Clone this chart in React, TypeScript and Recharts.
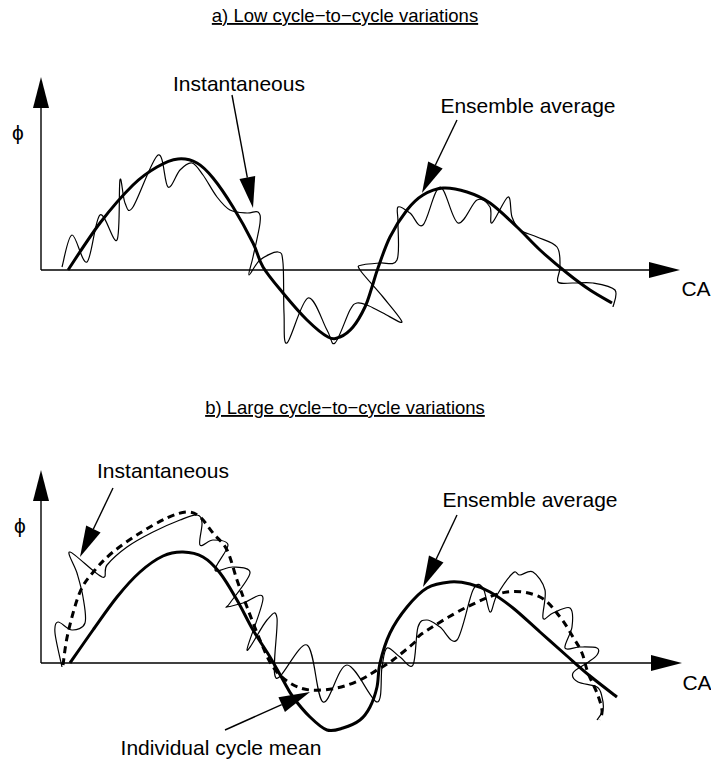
import React from 'react';
import { LineChart, Line, XAxis, YAxis, ReferenceLine, ReferenceDot } from 'recharts';

// crank angle (x) vs phi (y), drawing units: 1 unit = 1px
const aEnsemble = [
  [27, 0], [59, 47], [92, 85], [116, 103], [137, 111], [156, 107], [172, 92], [192, 63], [212, 27],
  [222, 3], [242, -23], [266, -50], [287, -67], [299, -67], [312, -57], [324, -37], [331, -17],
  [337, 2], [349, 33], [366, 60], [382, 75], [402, 82], [426, 78], [449, 67], [476, 43], [499, 20],
  [526, -3], [549, -20], [571, -33],
];
const aInstant = [
  [21, 3], [31, 35], [46, 8], [59, 55], [76, 30], [79, 90], [84, 67], [92, 63], [117, 115], [127, 83],
  [139, 100], [151, 107], [162, 95], [176, 73], [189, 60], [206, 57], [217, 58], [219, 47], [212, 13],
  [208, -5], [219, 10], [237, 18], [242, 7], [243, -43], [246, -73], [267, -28], [286, -60], [294, -73],
  [309, -40], [316, -33], [326, -35], [342, -43], [361, -52], [342, -27], [319, 0], [321, 5], [339, 7],
  [356, 10], [357, 47], [357, 63], [369, 57], [382, 45], [399, 83], [417, 47], [436, 70], [449, 63],
  [451, 47], [467, 73], [471, 53], [479, 40], [496, 33], [516, 23], [519, 3], [517, -12], [532, -13],
  [552, -13], [574, -20], [572, -37],
];

const bEnsemble = [
  [29, 0], [52, 33], [76, 66], [99, 91], [122, 107], [142, 111], [162, 106], [179, 90], [196, 63],
  [212, 33], [229, 6], [242, -17], [252, -34], [269, -54], [286, -67], [302, -65], [319, -57],
  [329, -44], [336, -24], [339, 0], [349, 30], [366, 56], [386, 75], [409, 81], [429, 79], [449, 71],
  [472, 55], [499, 31], [526, 7], [549, -13], [576, -34],
];
const bCycleMean = [
  [22, -2], [27, 30], [39, 71], [54, 93], [72, 111], [99, 130], [126, 145], [146, 151], [159, 146],
  [172, 130], [186, 113], [196, 83], [206, 56], [219, 23], [232, -4], [249, -20], [269, -27],
  [296, -25], [319, -17], [336, -7], [352, 3], [374, 21], [382, 30], [426, 56], [466, 71], [499, 66],
  [519, 46], [532, 26], [541, 10], [547, -10], [556, -30], [561, -47], [559, -57],
];
const bInstant = [
  [21, -4], [14, 30], [17, 41], [31, 33], [44, 40], [42, 66], [36, 90], [29, 111], [61, 86], [66, 98],
  [86, 116], [112, 131], [139, 143], [156, 148], [161, 140], [159, 118], [172, 123], [187, 118],
  [174, 93], [192, 96], [209, 90], [189, 60], [186, 56], [202, 60], [222, 65], [206, 13], [226, 43],
  [236, 45], [235, -15], [266, 18], [282, -39], [306, -2], [336, -39], [341, -4], [346, 15], [359, 6],
  [372, -2], [377, 36], [386, 43], [399, 36], [416, 23], [432, 73], [442, 75], [449, 51], [456, 68],
  [472, 90], [479, 88], [492, 91], [504, 73], [502, 45], [512, 50], [529, 55], [531, 36], [524, 15],
  [539, 16], [556, 15], [556, 8], [546, 0], [532, -10], [537, -19], [556, -24], [561, -34], [562, -47],
  [556, -57],
];

// arrows: [x1, y1, x2(tip), y2(tip)]
const aArrows = [
  [0, 0, 0, 193], [0, 0, 639, 0],
  [191, 175, 212, 62], [416, 150, 381, 77],
];
const bArrows = [
  [0, 0, 0, 193], [0, 0, 641, 0],
  [72, 175, 39, 106], [416, 148, 382, 76], [184, -67, 269, -29],
];

// text: [x, baseline y, text]
const aTexts: [number, number, string][] = [
  [198, 179, 'Instantaneous'], [487, 157, 'Ensemble average'], [655, -26, 'CA'], [-23, 130, 'ϕ'],
];
const bTexts: [number, number, string][] = [
  [122, 185, 'Instantaneous'], [489, 156, 'Ensemble average'], [656, -27, 'CA'], [-21, 130, 'ϕ'],
  [180, -92, 'Individual cycle mean'],
];
const titles = ['a) Low cycle−to−cycle variations', 'b) Large cycle−to−cycle variations'];

const toPts = (arr: number[][]) => arr.map(([x, y]) => ({ x, y }));

// plain Catmull-Rom; works on points that double back in x
const catmullRom = (ctx: any) => {
  let p: number[][] = [];
  return {
    areaStart() {},
    areaEnd() {},
    lineStart() { p = []; },
    point(x: number, y: number) { p.push([x, y]); },
    lineEnd() {
      if (!p.length) return;
      ctx.moveTo(p[0][0], p[0][1]);
      for (let i = 0; i < p.length - 1; i++) {
        const a = p[Math.max(i - 1, 0)], b = p[i], c = p[i + 1], d = p[Math.min(i + 2, p.length - 1)];
        ctx.bezierCurveTo(
          b[0] + (c[0] - a[0]) / 6, b[1] + (c[1] - a[1]) / 6,
          c[0] - (d[0] - b[0]) / 6, c[1] - (d[1] - b[1]) / 6,
          c[0], c[1],
        );
      }
    },
  };
};

const Arrow = (p: any) => {
  const { x1, y1, x2, y2 } = p;
  const len = Math.hypot(x2 - x1, y2 - y1) || 1;
  const ux = (x2 - x1) / len, uy = (y2 - y1) / len;
  const hl = 31, hw = 8;
  const bx = x2 - ux * hl, by = y2 - uy * hl;
  return (
    <g>
      <line x1={x1} y1={y1} x2={bx} y2={by} stroke="#000" strokeWidth={1.4} />
      <polygon points={`${x2},${y2} ${bx - uy * hw},${by + ux * hw} ${bx + uy * hw},${by - ux * hw}`} fill="#000" />
    </g>
  );
};

const textShape = (s: string, size: number, underline = false) => (p: any) => (
  <text x={p.cx} y={p.cy} textAnchor="middle" fontSize={size} fill="#000"
    style={underline ? { textDecoration: 'underline' } : undefined}>{s}</text>
);

type PanelProps = {
  top: number; height: number; title: string;
  arrows: number[][]; texts: [number, number, string][];
  series: { pts: number[][]; width: number; dash?: string }[];
};

function Panel({ top, height, title, arrows, texts, series }: PanelProps) {
  return (
    <div style={{ position: 'absolute', left: 0, top }}>
      <LineChart width={711} height={height} margin={{ top: 0, right: 0, bottom: 0, left: 0 }}>
        <XAxis type="number" dataKey="x" domain={[-41, 670]} hide allowDataOverflow />
        <YAxis type="number" dataKey="y" domain={[270 - height, 270]} hide allowDataOverflow />
        {arrows.map(([x1, y1, x2, y2], i) => (
          <ReferenceLine key={'ar' + i} segment={[{ x: x1, y: y1 }, { x: x2, y: y2 }]} ifOverflow="visible" shape={Arrow} />
        ))}
        {series.map((s, i) => (
          <Line key={'s' + i} data={toPts(s.pts)} dataKey="y" type={catmullRom as any} stroke="#000"
            strokeWidth={s.width} strokeDasharray={s.dash} dot={false} activeDot={false}
            isAnimationActive={false} strokeLinejoin="round" />
        ))}
        {texts.map(([x, y, t], i) => (
          <ReferenceDot key={'t' + i} x={x} y={y} r={0} ifOverflow="visible" shape={textShape(t, 21)} />
        ))}
        <ReferenceDot x={304} y={height === 393 ? 248 : 249} r={0} ifOverflow="visible" shape={textShape(title, 18.5, true)} />
      </LineChart>
    </div>
  );
}

export default function App() {
  return (
    <div style={{ position: 'absolute', left: 0, top: 0, width: 711, height: 765, background: '#fff', fontFamily: '"Liberation Sans", Arial, sans-serif' }}>
      <Panel top={0} height={393} title={titles[0]} arrows={aArrows} texts={aTexts}
        series={[{ pts: aInstant, width: 1.2 }, { pts: aEnsemble, width: 3 }]} />
      <Panel top={393} height={372} title={titles[1]} arrows={bArrows} texts={bTexts}
        series={[{ pts: bInstant, width: 1.2 }, { pts: bCycleMean, width: 3, dash: '7 5' }, { pts: bEnsemble, width: 3 }]} />
    </div>
  );
}
